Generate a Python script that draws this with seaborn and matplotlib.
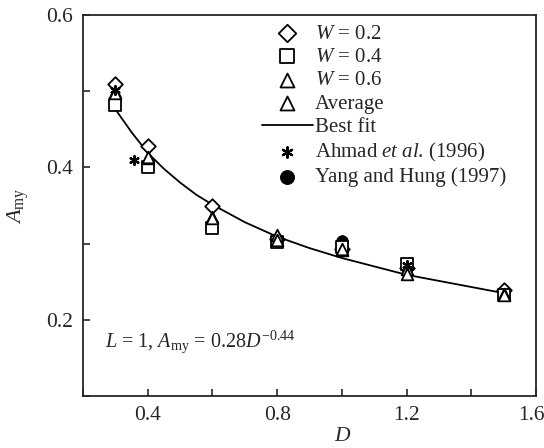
import matplotlib
matplotlib.use("Agg")
import matplotlib.pyplot as plt
import matplotlib.transforms as mtransforms
import seaborn as sns
from matplotlib.ticker import MultipleLocator

# data
D = [0.3, 0.4, 0.6, 0.8, 1.0, 1.2, 1.5]
w02 = [0.509, 0.428, 0.349, 0.306, 0.293, 0.268, 0.239]
w04 = [0.482, 0.401, 0.320, 0.302, 0.295, 0.273, 0.232]
w06 = [0.499, 0.412, 0.335, 0.311, 0.291, 0.266, 0.234]
avg = [0.497, 0.414, 0.334, 0.304, 0.293, 0.260, 0.232]

ahmad_D = [0.3, 0.358, 1.2]
ahmad_A = [0.501, 0.410, 0.272]
yang_D = [1.0]
yang_A = [0.303]

fit_D = [0.30, 0.35, 0.40, 0.45, 0.50, 0.55, 0.60, 0.70, 0.80, 0.90,
         1.00, 1.10, 1.20, 1.30, 1.40, 1.50]
fit_A = [0.476, 0.446, 0.419, 0.398, 0.380, 0.364, 0.351, 0.328, 0.309, 0.294,
         0.281, 0.270, 0.259, 0.251, 0.243, 0.235]

sns.set_style("ticks")
plt.rcParams["font.family"] = ["Liberation Serif", "DejaVu Serif"]
plt.rcParams["mathtext.fontset"] = "custom"
plt.rcParams["mathtext.rm"] = "Liberation Serif"
plt.rcParams["mathtext.it"] = "Liberation Serif:italic"

fig = plt.figure(figsize=(5.44, 4.48), dpi=100)
ax = fig.add_axes([0.1526, 0.116, 0.8327, 0.851])

open_kw = dict(facecolor="white", edgecolor="black", linewidth=1.3, s=70, zorder=3)

sns.scatterplot(x=D, y=w02, marker="D", ax=ax, label=r"$W$ = 0.2", **{**open_kw, "s": 55})
sns.scatterplot(x=D, y=w04, marker="s", ax=ax, label=r"$W$ = 0.4", **open_kw)
sns.scatterplot(x=D, y=w06, marker="^", ax=ax, label=r"$W$ = 0.6", **open_kw)
sns.scatterplot(x=D, y=avg, marker="^", ax=ax, label="Average", **open_kw)
sns.lineplot(x=fit_D, y=fit_A, color="black", linewidth=1.3, ax=ax,
             label="Best fit", sort=False, zorder=2)
sns.scatterplot(x=ahmad_D, y=ahmad_A, marker=(6, 2, 0), color="black",
                linewidth=1.6, s=40, ax=ax, label=r"Ahmad $et\ al$. (1996)", zorder=4)
sns.scatterplot(x=yang_D, y=yang_A, marker="o", color="black", edgecolor="black",
                s=70, ax=ax, label="Yang and Hung (1997)", zorder=2)

ax.set_xlim(0.2, 1.6)
ax.set_ylim(0.1, 0.6)
ax.xaxis.set_major_locator(MultipleLocator(0.4))
ax.xaxis.set_minor_locator(MultipleLocator(0.2))
ax.yaxis.set_major_locator(MultipleLocator(0.2))
ax.yaxis.set_minor_locator(MultipleLocator(0.1))
ax.tick_params(which="both", direction="in", labelsize=15.5, width=1.2, pad=7, length=5)
for sp in ax.spines.values():
    sp.set_linewidth(1.3)
    sp.set_visible(True)

ax.set_xlabel(r"$D$", fontsize=15.5)
ax.set_ylabel(r"$A_{\rm my}$", fontsize=16)
ax.xaxis.set_label_coords(0.574, -0.081)
ax.yaxis.set_label_coords(-0.115, 0.5)

ax.text(0.049, 0.13, r"$L$ = 1, $A_{\rm my}$ = 0.28$D^{-0.44}$",
        transform=ax.transAxes, fontsize=14.5, va="baseline")

leg = ax.legend(loc="upper left", bbox_to_anchor=(0.395, 0.976), frameon=False,
                fontsize=15, handlelength=2.45, handletextpad=0.1, markerscale=1.2,
                labelspacing=0.18, borderpad=0, borderaxespad=0)

# the last x tick label sits a little left of its tick, inside the figure
fig.canvas.draw()
last = ax.xaxis.get_major_ticks()[-1].label1
for t in ax.xaxis.get_major_ticks():
    if abs(t.get_loc() - 1.6) < 1e-6:
        last = t.label1
last.set_transform(last.get_transform() +
                   mtransforms.ScaledTranslation(-5 / 100, 0, fig.dpi_scale_trans))

fig.savefig("out.png", dpi=100)
